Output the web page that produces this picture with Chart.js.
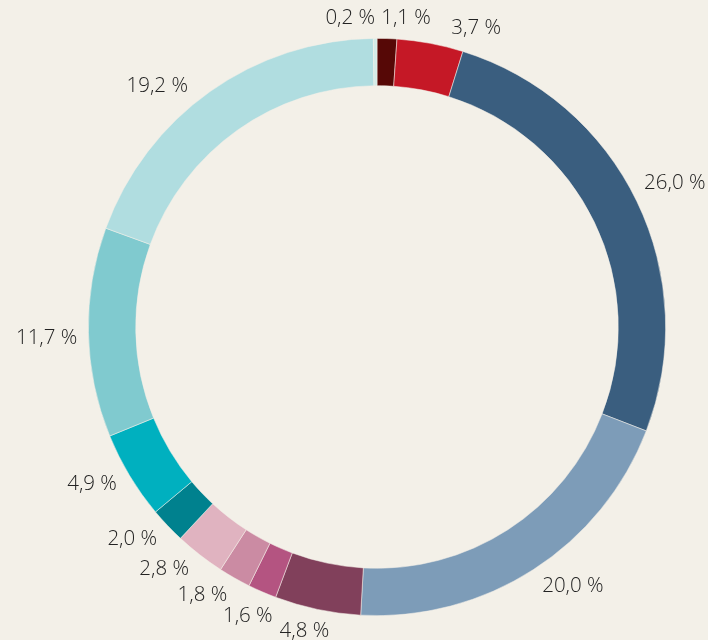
<!DOCTYPE html>
<html lang="de">
<head>
  <meta charset="UTF-8" />
  <title>Anteile</title>
  <script src="https://cdn.jsdelivr.net/npm/chart.js"></script>
  <style>
    html, body { margin: 0; padding: 0; background: #f3f0e8; }
    canvas { display: block; }
  </style>
</head>
<body>
  <canvas id="ring" width="708" height="640"></canvas>

  <script>
    // Anteile im Uhrzeigersinn, beginnend oben
    const shares = [1.1, 3.7, 26.0, 20.0, 4.8, 1.6, 1.8, 2.8, 2.0, 4.9, 11.7, 19.2, 0.2];
    const colors = ['#560806', '#c51826', '#3a5e7f', '#7d9cb8', '#81405b', '#b45481', '#cb8ba3',
                    '#e0b3c0', '#00818e', '#00b0bf', '#80cacf', '#b0dde0', '#d3ece8'];
    // kleine Verschiebung der Beschriftung (Grad), wie im Original
    const labelNudge = [3.4, 7.7, 0, -4.3, 1.5, 0.6, 3.5, 3.5, 2.6, 2.2, -0.8, -7, -4.6];

    const fmt = v => v.toFixed(1).replace('.', ',') + ' %';

    const labelPlugin = {
      id: 'ringLabels',
      afterDraw(chart) {
        const ctx = chart.ctx;
        const meta = chart.getDatasetMeta(0);
        ctx.save();
        ctx.font = '300 20.5px "Open Sans", sans-serif';
        ctx.fillStyle = '#222';
        ctx.textAlign = 'center';
        ctx.textBaseline = 'middle';
        meta.data.forEach((arc, i) => {
          const { x, y, startAngle, endAngle, outerRadius } = arc.getProps(['x', 'y', 'startAngle', 'endAngle', 'outerRadius'], true);
          const a = (startAngle + endAngle) / 2 + labelNudge[i] * Math.PI / 180;
          const text = fmt(shares[i]);
          const w = ctx.measureText(text).width;
          const h = 16;
          const d = outerRadius + 11 + Math.abs(Math.cos(a)) * w / 2 + Math.abs(Math.sin(a)) * h / 2;
          ctx.fillText(text, x + d * Math.cos(a), y + d * Math.sin(a));
        });
        ctx.restore();
      }
    };

    new Chart(document.getElementById('ring').getContext('2d'), {
      type: 'doughnut',
      data: {
        labels: shares.map(fmt),
        datasets: [{
          data: shares,
          backgroundColor: colors,
          borderColor: 'rgba(243,240,232,0.7)',
          borderWidth: 0.75
        }]
      },
      options: {
        responsive: false,
        animation: false,
        cutout: '83.6%',
        layout: { padding: { left: 88, right: 42, top: 38, bottom: 24 } },
        plugins: {
          legend: { display: false },
          tooltip: { enabled: false }
        }
      },
      plugins: [labelPlugin]
    });
  </script>
</body>
</html>
